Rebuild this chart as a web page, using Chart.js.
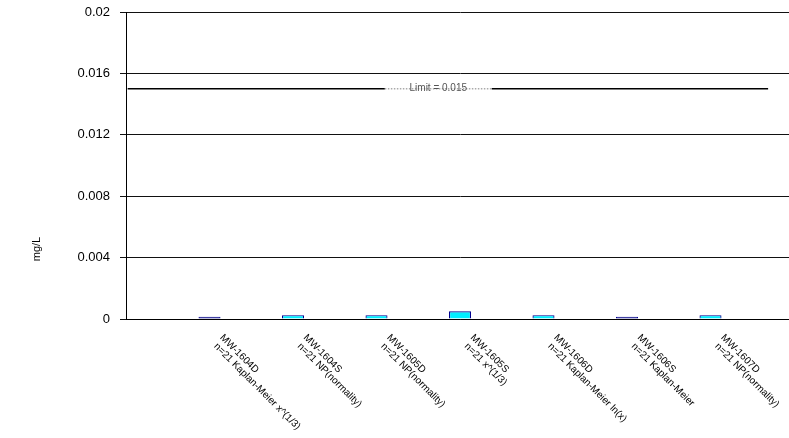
<!DOCTYPE html>
<html><head><meta charset="utf-8">
<script src="https://cdn.jsdelivr.net/npm/chart.js@4/dist/chart.umd.min.js"></script>
<style>html,body{margin:0;padding:0;overflow:hidden;background:#fff}#wrap{width:800px;height:438px;position:relative}canvas{display:block}</style>
</head><body><div id="wrap"><canvas id="c" width="800" height="438"></canvas></div>
<script>
const wells = ['MW-1604D','MW-1604S','MW-1605D','MW-1605S','MW-1606D','MW-1606S','MW-1607D'];
const methods = ['n=21 Kaplan-Meier x^(1/3)','n=21 NP(normality)','n=21 NP(normality)','n=21 x^(1/3)','n=21 Kaplan-Meier ln(x)','n=21 Kaplan-Meier','n=21 NP(normality)'];
const values = [0.00015,0.00025,0.00025,0.0005,0.00025,0.00015,0.00025];
const nonDetect = [true,false,false,false,false,true,false];
const yTicks = [0,0.004,0.008,0.012,0.016,0.02];
const limitValue = 0.015;
const limitLabel = 'Limit = 0.015';
const yTitle = 'mg/L';
const limitSpan = [0.02, 3.1, 4.38, 7.69];

const catLabels = ['', ...wells, ''];
const barData = [null, ...values, null];
const fills = [null, ...nonDetect.map(n => n ? '#000080' : '#00EEFF'), null];
const FONT = '"Liberation Sans", Arial, sans-serif';

const textPlugin = {
  id: 'texts',
  afterDatasetsDraw(chart) {
    const {ctx, scales: {x, y, x2}} = chart;
    ctx.save();
    ctx.fillStyle = '#000';
    ctx.font = '10px ' + FONT;
    ctx.textAlign = 'left';
    ctx.textBaseline = 'alphabetic';
    wells.forEach((w, i) => {
      const px = x.getPixelForValue(i + 1);
      ctx.save();
      ctx.translate(px + 10, y.bottom + 19);
      ctx.rotate(Math.PI / 4);
      ctx.fillText(w, 0, 0);
      ctx.fillText(methods[i], 2, 10.5);
      ctx.restore();
    });
    ctx.save();
    ctx.font = '11px ' + FONT;
    ctx.textAlign = 'center';
    ctx.textBaseline = 'middle';
    ctx.translate(37, 249);
    ctx.rotate(-Math.PI / 2);
    ctx.fillText(yTitle, 0, 0);
    ctx.restore();
    ctx.font = '10px ' + FONT;
    ctx.fillStyle = '#555';
    ctx.textAlign = 'center';
    ctx.textBaseline = 'middle';
    ctx.fillText(limitLabel, x2.getPixelForValue((limitSpan[1] + limitSpan[2]) / 2), y.getPixelForValue(limitValue) - 1);
    ctx.restore();
  }
};

new Chart(document.getElementById('c'), {
  type: 'bar',
  data: {
    labels: catLabels,
    datasets: [
      {
        data: barData,
        backgroundColor: fills,
        borderColor: '#000090',
        borderWidth: 1.2,
        grouped: false,
        categoryPercentage: 1,
        barPercentage: 0.264,
        xAxisID: 'x', yAxisID: 'y'
      },
      {
        type: 'line',
        xAxisID: 'x2', yAxisID: 'y',
        data: limitSpan.map(v => ({x: v, y: limitValue})),
        borderColor: '#000',
        borderWidth: 1.3,
        pointRadius: 0,
        segment: {
          borderColor: c => c.p0DataIndex === 1 ? '#aaa' : '#000',
          borderDash: c => c.p0DataIndex === 1 ? [1.5, 1.5] : undefined
        }
      }
    ]
  },
  options: {
    responsive: false,
    maintainAspectRatio: false,
    animation: false,
    devicePixelRatio: 1,
    layout: {padding: {top: 12, right: 6, bottom: 119, left: 0}},
    plugins: {legend: {display: false}, tooltip: {enabled: false}},
    scales: {
      x: {
        type: 'category',
        offset: false,
        grid: {display: false, drawTicks: false},
        ticks: {display: false},
        border: {display: true, color: '#000', width: 1},
        afterFit: s => { s.height = 0; }
      },
      x2: {type: 'linear', min: 0, max: 8, display: false, offset: false},
      y: {
        min: 0, max: 0.02,
        afterBuildTicks: s => { s.ticks = yTicks.map(v => ({value: v})); },
        afterFit: s => { s.width = 126; s.paddingTop = 0; s.paddingBottom = 0; },
        ticks: {color: '#000', font: {size: 13, family: FONT}, padding: 10, callback: v => String(v)},
        grid: {color: '#111', lineWidth: 1, tickLength: 6, drawTicks: true},
        border: {display: true, color: '#000', width: 1}
      }
    }
  },
  plugins: [textPlugin]
});
</script>
</body></html>
